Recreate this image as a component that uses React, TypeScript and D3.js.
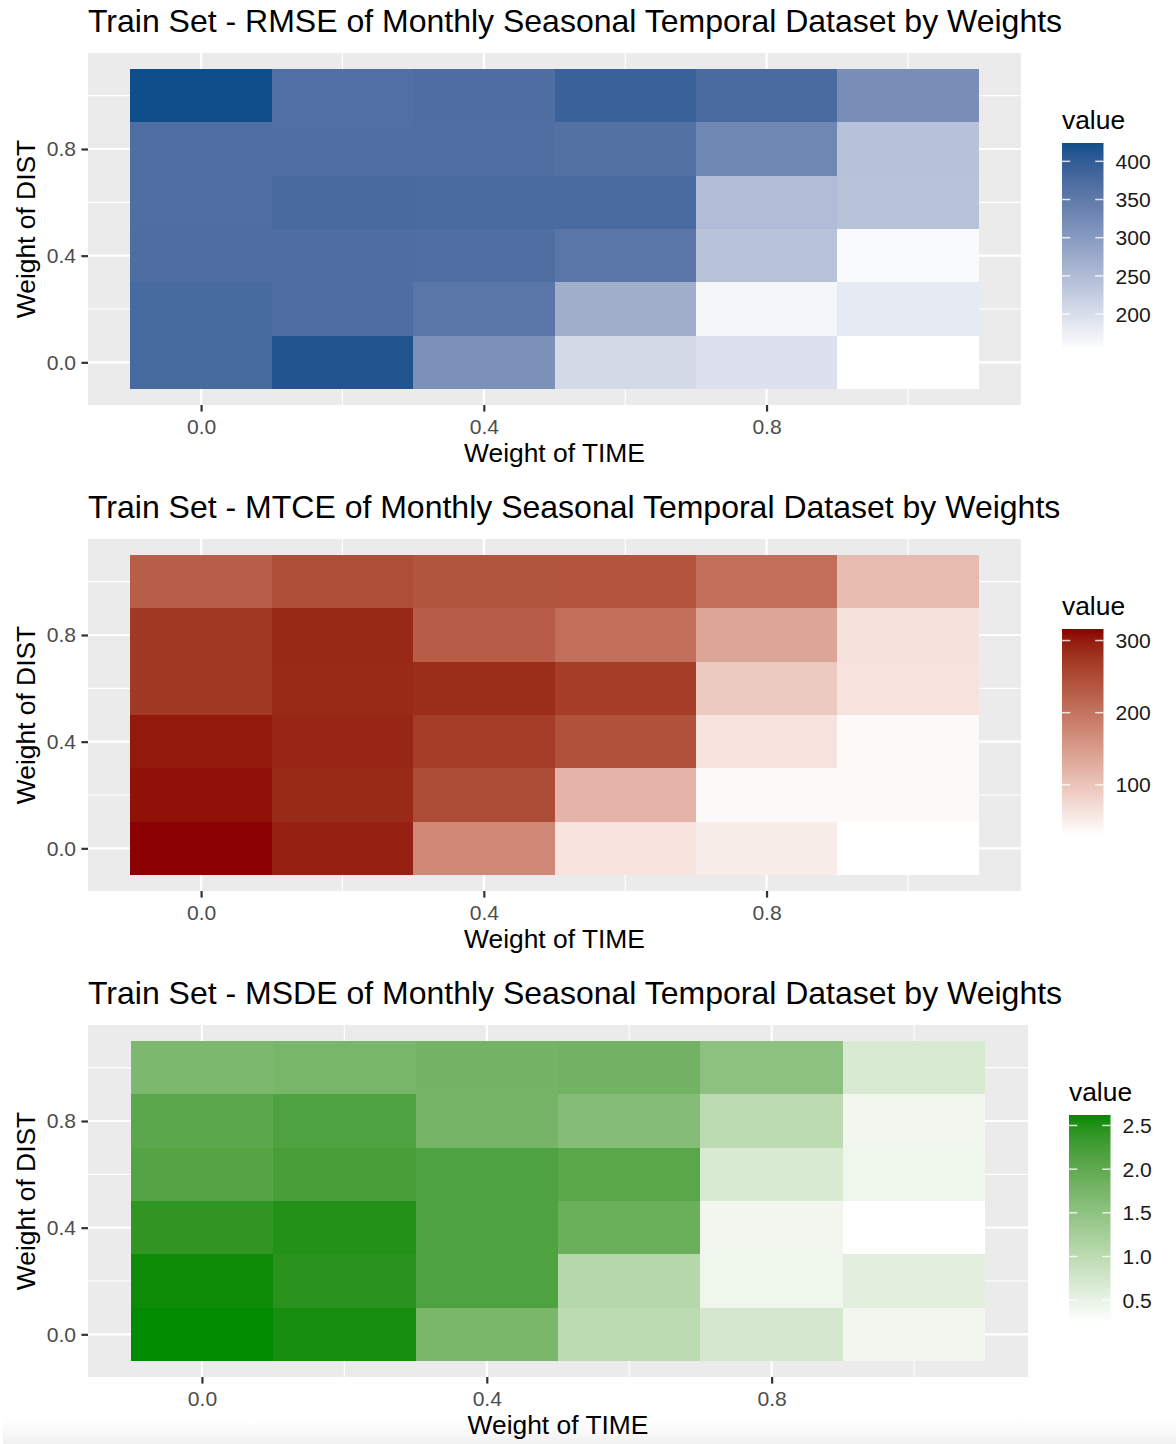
import React, { useEffect, useRef } from 'react';
import * as d3 from 'd3';

const FONT = '"Liberation Sans", Arial, Helvetica, sans-serif';

// weights used on both axes
const weights = [0, 0.2, 0.4, 0.6, 0.8, 1.0];
const majorTicks = [0, 0.4, 0.8];
const minorTicks = [0.2, 0.6, 1.0];

// rows = Weight of DIST (0.0 -> 1.0), columns = Weight of TIME (0.0 -> 1.0)
const rmse = [
  [377, 413, 314, 207, 195, 153],
  [377, 370, 356, 269, 166, 183],
  [370, 370, 368, 356, 240, 160],
  [369, 376, 375, 375, 248, 240],
  [368, 367, 368, 364, 330, 241],
  [424, 366, 370, 391, 374, 317],
];

const mtce = [
  [316, 296, 175, 63, 50, 29],
  [308, 288, 249, 120, 36, 36],
  [302, 291, 268, 242, 63, 36],
  [272, 288, 285, 267, 94, 63],
  [272, 289, 229, 207, 139, 64],
  [228, 247, 239, 240, 207, 110],
];

const msde = [
  [2.62, 2.55, 1.73, 1.0, 0.72, 0.41],
  [2.59, 2.46, 2.16, 1.07, 0.43, 0.57],
  [2.42, 2.5, 2.16, 1.9, 0.41, 0.25],
  [2.12, 2.23, 2.16, 2.06, 0.68, 0.43],
  [2.05, 2.16, 1.77, 1.61, 1.0, 0.41],
  [1.71, 1.75, 1.79, 1.81, 1.52, 0.68],
];

const rmseTicks = [200, 250, 300, 350, 400];
const mtceTicks = [100, 200, 300];
const msdeTicks = [0.5, 1.0, 1.5, 2.0, 2.5];

const charts = [
  { metric: 'RMSE', values: rmse, ticks: rmseTicks, high: '#104E8B', fmt: d3.format('d'), right: 1021 },
  { metric: 'MTCE', values: mtce, ticks: mtceTicks, high: '#8B0000', fmt: d3.format('d'), right: 1021 },
  { metric: 'MSDE', values: msde, ticks: msdeTicks, high: '#008B00', fmt: d3.format('.1f'), right: 1028 },
];

function App() {
  const canvas = useRef<SVGSVGElement>(null);

  useEffect(() => {
    const width = 1176;
    const height = 1444;
    const svg = d3.select(canvas.current).attr('width', width).attr('height', height);
    svg.selectAll('*').remove();
    const defs = svg.append('defs');

    // faint shading at the bottom edge of the capture (behind everything)
    const shade = defs.append('linearGradient')
      .attr('id', 'shade').attr('x1', 0).attr('x2', 0).attr('y1', 0).attr('y2', 1);
    shade.append('stop').attr('offset', 0).attr('stop-color', '#FFFFFF').attr('stop-opacity', 0);
    shade.append('stop').attr('offset', 1).attr('stop-color', '#EFEFEF').attr('stop-opacity', 1);
    svg.append('rect')
      .attr('x', 3).attr('y', 1412).attr('width', width - 3).attr('height', 32)
      .attr('fill', 'url(#shade)');

    charts.forEach((c, i) => {
      const g = svg.append('g').attr('transform', `translate(0,${i * 486})`);
      const left = 88, top = 53, bottom = 405, right = c.right;

      const x = d3.scaleLinear().domain([-0.16, 1.16]).range([left, right]);
      const y = d3.scaleLinear().domain([-0.16, 1.16]).range([bottom, top]);
      const [lo, hi] = d3.extent(c.values.flat()) as [number, number];
      const color = d3.scaleLinear<string>()
        .domain([lo, hi])
        .range(['#FFFFFF', c.high])
        .interpolate(d3.interpolateLab);

      g.append('text')
        .attr('x', left)
        .attr('y', 32)
        .text(`Train Set - ${c.metric} of Monthly Seasonal Temporal Dataset by Weights`)
        .attr('font-size', 32)
        .attr('fill', '#000');

      // panel
      g.append('rect')
        .attr('x', left).attr('y', top)
        .attr('width', right - left).attr('height', bottom - top)
        .attr('fill', '#EBEBEB');

      minorTicks.forEach(v => {
        g.append('line').attr('x1', x(v)).attr('x2', x(v)).attr('y1', top).attr('y2', bottom)
          .attr('stroke', '#fff').attr('stroke-width', 1.1);
        g.append('line').attr('x1', left).attr('x2', right).attr('y1', y(v)).attr('y2', y(v))
          .attr('stroke', '#fff').attr('stroke-width', 1.1);
      });
      majorTicks.forEach(v => {
        g.append('line').attr('x1', x(v)).attr('x2', x(v)).attr('y1', top).attr('y2', bottom)
          .attr('stroke', '#fff').attr('stroke-width', 2.2);
        g.append('line').attr('x1', left).attr('x2', right).attr('y1', y(v)).attr('y2', y(v))
          .attr('stroke', '#fff').attr('stroke-width', 2.2);
      });

      const cells = weights.flatMap((dy, r) => weights.map((dx, k) => ({ dx, dy, v: c.values[r][k] })));
      g.append('g')
        .attr('shape-rendering', 'crispEdges')
        .selectAll('rect')
        .data(cells)
        .enter()
        .append('rect')
        .attr('x', d => x(d.dx - 0.1))
        .attr('y', d => y(d.dy + 0.1))
        .attr('width', d => x(d.dx + 0.1) - x(d.dx - 0.1))
        .attr('height', d => y(d.dy - 0.1) - y(d.dy + 0.1))
        .attr('fill', d => color(d.v));

      // axes
      const xAxis = g.append('g')
        .attr('transform', `translate(0,${bottom})`)
        .call(d3.axisBottom(x).tickValues(majorTicks).tickFormat(d3.format('.1f')).tickSize(6.6).tickPadding(7.5));
      const yAxis = g.append('g')
        .attr('transform', `translate(${left},0)`)
        .call(d3.axisLeft(y).tickValues(majorTicks).tickFormat(d3.format('.1f')).tickSize(6.6).tickPadding(5.3));
      [xAxis, yAxis].forEach(a => {
        a.select('.domain').remove();
        a.attr('font-family', FONT).attr('font-size', 21.1);
        a.selectAll('line').attr('stroke', '#333333').attr('stroke-width', 2.2);
        a.selectAll('text').attr('fill', '#4D4D4D');
      });

      g.append('text')
        .attr('x', (left + right) / 2)
        .attr('y', 462)
        .attr('text-anchor', 'middle')
        .attr('font-size', 26.4)
        .attr('fill', '#000')
        .text('Weight of TIME');

      g.append('text')
        .attr('transform', `translate(35,${(top + bottom) / 2}) rotate(-90)`)
        .attr('text-anchor', 'middle')
        .attr('font-size', 26.4)
        .attr('fill', '#000')
        .text('Weight of DIST');

      // legend
      const lx = right + 41;
      const barW = 41.5, barTop = 143, barBottom = 350;
      const grad = defs.append('linearGradient')
        .attr('id', `grad${i}`)
        .attr('x1', 0).attr('x2', 0).attr('y1', 0).attr('y2', 1);
      d3.range(0, 1.0001, 0.05).forEach(t => {
        grad.append('stop')
          .attr('offset', t)
          .attr('stop-color', color(hi - t * (hi - lo)));
      });
      g.append('text')
        .attr('x', lx)
        .attr('y', 129)
        .attr('font-size', 26.4)
        .text('value');
      g.append('rect')
        .attr('x', lx).attr('y', barTop)
        .attr('width', barW).attr('height', barBottom - barTop)
        .attr('fill', `url(#grad${i})`);
      const ly = d3.scaleLinear().domain([lo, hi]).range([barBottom, barTop]);
      c.ticks.forEach(t => {
        g.append('line').attr('x1', lx).attr('x2', lx + 8.3).attr('y1', ly(t)).attr('y2', ly(t))
          .attr('stroke', '#fff').attr('stroke-opacity', 0.8).attr('stroke-width', 1.5);
        g.append('line').attr('x1', lx + barW - 8.3).attr('x2', lx + barW).attr('y1', ly(t)).attr('y2', ly(t))
          .attr('stroke', '#fff').attr('stroke-opacity', 0.8).attr('stroke-width', 1.5);
        g.append('text')
          .attr('x', lx + barW + 12)
          .attr('y', ly(t))
          .attr('dy', '0.36em')
          .attr('font-size', 21.1)
          .attr('fill', '#1A1A1A')
          .text(c.fmt(t));
      });
    });
  }, []);

  return (
    <svg
      ref={canvas}
      style={{ position: 'absolute', left: 0, top: 0, background: '#fff', fontFamily: FONT }}
    />
  );
}

export default App;
